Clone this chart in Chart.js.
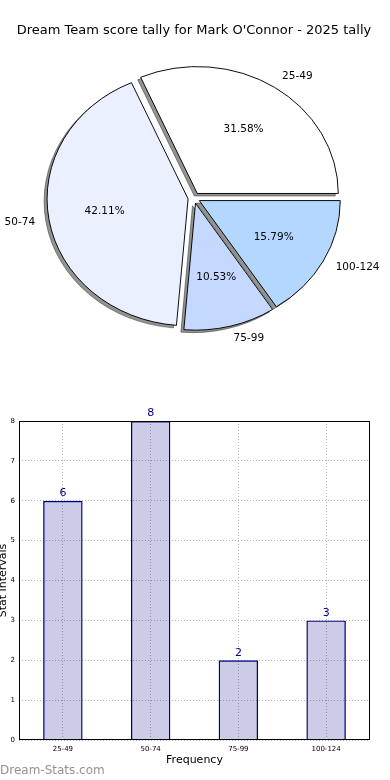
<!DOCTYPE html>
<html>
<head>
<meta charset="utf-8">
<script src="https://cdn.jsdelivr.net/npm/chart.js@4.4.1/dist/chart.umd.min.js"></script>
<style>
  body { margin: 0; background: #fff; }
  #wrap { position: relative; width: 390px; height: 780px; overflow: hidden; }
  #pie { position: absolute; left: 0; top: 0; }
  #bar { position: absolute; left: 0; top: 395px; }
  #mark { position: absolute; left: 0; top: 762px; font: 12px "DejaVu Sans", sans-serif; color: #929292; line-height: 16px; }
</style>
</head>
<body>
<div id="wrap">
  <canvas id="pie" width="390" height="395"></canvas>
  <canvas id="bar" width="390" height="385"></canvas>
  <div id="mark">Dream-Stats.com</div>
</div>
<script>
// data
const categories = ['25-49', '50-74', '75-99', '100-124'];
const counts = [6, 8, 2, 3];
const titleText = "Dream Team score tally for Mark O'Connor - 2025 tally";

// styles
const sliceColors = ['#ffffff', '#eaf0ff', '#c5d8ff', '#b3d7ff'];
const SQUASH = 0.9;    // pie is drawn as an ellipse, like the original
const SHIFT = 6;       // explode distance of each slice, px

Chart.defaults.font.family = '"DejaVu Sans", sans-serif';
Chart.defaults.color = '#000';

const total = counts.reduce((a, b) => a + b, 0);

// matplotlib goes counter-clockwise from 3 o'clock, chart.js clockwise,
// so feed the slices in reverse and start at 90 degrees
const order = [3, 2, 1, 0];

function squash(ctx, cy) {
  ctx.translate(0, cy);
  ctx.scale(1, SQUASH);
  ctx.translate(0, -cy);
}

// draws the slices itself: exploded, squashed, with a drop shadow
const pieFx = {
  id: 'pieFx',
  beforeDatasetDraw(chart) {
    const ctx = chart.ctx;
    const arcs = chart.getDatasetMeta(0).data;
    const cy = arcs[0].y;
    arcs.forEach(a => {
      const mid = (a.startAngle + a.endAngle) / 2;
      const ghost = Object.assign(Object.create(Object.getPrototypeOf(a)), a);
      ghost.options = Object.assign({}, a.options, {
        backgroundColor: 'rgba(40,40,40,0.5)',
        borderColor: 'rgba(40,40,40,0.5)'
      });
      ctx.save();
      ctx.translate(-3, 2.5);
      squash(ctx, cy);
      ctx.translate(Math.cos(mid) * SHIFT, Math.sin(mid) * SHIFT);
      ghost.draw(ctx);
      ctx.restore();
    });
    arcs.forEach(a => {
      const mid = (a.startAngle + a.endAngle) / 2;
      ctx.save();
      squash(ctx, cy);
      ctx.translate(Math.cos(mid) * SHIFT, Math.sin(mid) * SHIFT);
      a.draw(ctx);
      ctx.restore();
    });
    return false;
  },
  afterDatasetsDraw(chart) {
    const ctx = chart.ctx;
    const arcs = chart.getDatasetMeta(0).data;
    ctx.save();
    ctx.fillStyle = '#000';
    ctx.font = '10.5px "DejaVu Sans"';
    ctx.textBaseline = 'middle';
    arcs.forEach((a, j) => {
      const i = order[j];
      const mid = (a.startAngle + a.endAngle) / 2;
      const c = Math.cos(mid), s = Math.sin(mid);
      const R = a.outerRadius;
      const lx = a.x + c * (SHIFT + 1.1 * R);
      const ly = a.y + SQUASH * s * (SHIFT + 1.1 * R);
      ctx.textAlign = c > 0 ? 'left' : 'right';
      ctx.fillText(categories[i], lx, ly);
      const px = a.x + c * (SHIFT + 0.6 * R);
      const py = a.y + SQUASH * s * (SHIFT + 0.6 * R);
      ctx.textAlign = 'center';
      ctx.fillText((counts[i] / total * 100).toFixed(2) + '%', px, py);
    });
    ctx.restore();
  }
};

new Chart(document.getElementById('pie'), {
  type: 'pie',
  data: {
    labels: order.map(i => categories[i]),
    datasets: [{
      data: order.map(i => counts[i]),
      backgroundColor: order.map(i => sliceColors[i]),
      borderColor: '#000',
      borderWidth: 1,
      hoverOffset: 0
    }]
  },
  options: {
    responsive: false,
    animation: false,
    rotation: 90,
    radius: 141,
    layout: { padding: { top: 0, right: 2, left: 0, bottom: 46.6 } },
    plugins: {
      legend: { display: false },
      tooltip: { enabled: false },
      title: {
        display: true,
        text: titleText,
        color: '#000',
        font: { size: 13, weight: 'normal' },
        padding: { top: 23, bottom: 9 }
      }
    }
  },
  plugins: [pieFx]
});

const frame = {
  id: 'frame',
  afterDatasetsDraw(chart) {
    const ctx = chart.ctx, a = chart.chartArea;
    ctx.save();
    ctx.strokeStyle = '#000';
    ctx.lineWidth = 1;
    const l = Math.round(a.left) + 0.5, t = Math.round(a.top) + 0.5;
    const r = Math.round(a.right) - 0.5, b = Math.round(a.bottom) - 0.5;
    ctx.strokeRect(l, t, r - l, b - t);
    // bar values
    ctx.fillStyle = '#000080';
    ctx.font = '11px "DejaVu Sans"';
    ctx.textAlign = 'center';
    ctx.textBaseline = 'bottom';
    chart.getDatasetMeta(0).data.forEach((bar, i) => {
      ctx.fillText(String(counts[i]), bar.x, bar.y - 2);
    });
    ctx.restore();
  }
};

new Chart(document.getElementById('bar'), {
  type: 'bar',
  data: {
    labels: categories,
    datasets: [{
      data: counts,
      backgroundColor: 'rgba(0,0,128,0.2)',
      borderColor: '#000080',
      borderWidth: 1.4,
      barPercentage: 0.45,
      categoryPercentage: 1
    }]
  },
  options: {
    responsive: false,
    animation: false,
    layout: { padding: { top: 26, right: 20, left: 0, bottom: 0 } },
    plugins: { legend: { display: false }, tooltip: { enabled: false } },
    scales: {
      x: {
        offset: true,
        grid: { offset: false, color: '#b5b5b5', drawTicks: false },
        border: { display: false, dash: [1, 2] },
        ticks: { font: { size: 7 }, color: '#000', padding: 5 },
        title: { display: true, text: 'Frequency', color: '#000', font: { size: 11 }, padding: { top: 0, bottom: 13 } },
        afterFit(s) { s.height = 40; }
      },
      y: {
        min: 0,
        max: 8,
        grid: { color: '#b5b5b5', drawTicks: false },
        border: { display: false, dash: [1, 2] },
        ticks: { stepSize: 1, font: { size: 7 }, color: '#000', padding: 4 },
        title: { display: true, text: 'Stat Intervals', color: '#000', font: { size: 11, lineHeight: 0.55 }, padding: 0 },
        afterFit(s) { s.width = 19; }
      }
    }
  },
  plugins: [frame]
});
</script>
</body>
</html>
